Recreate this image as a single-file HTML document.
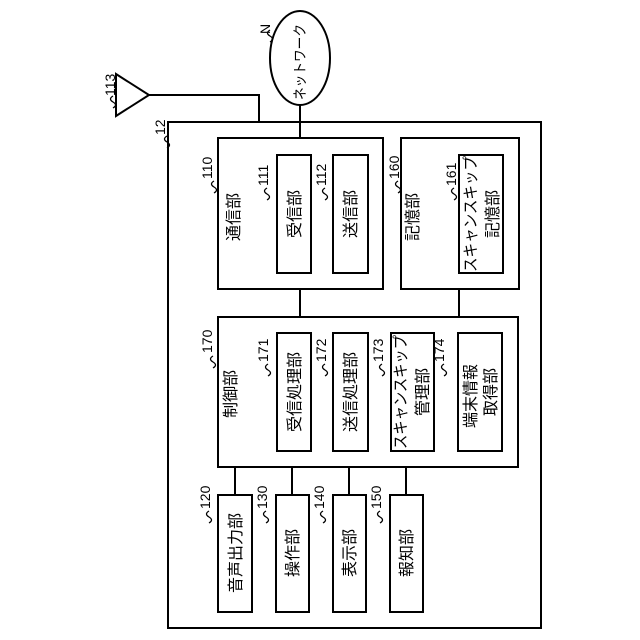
<!DOCTYPE html>
<html><head><meta charset="utf-8"><style>html,body{margin:0;padding:0;background:#fff}svg{display:block}</style></head><body>
<svg width="640" height="640" viewBox="0 0 640 640" xmlns="http://www.w3.org/2000/svg" font-family="'Liberation Sans','Noto Sans CJK JP',sans-serif" fill="none" stroke="#000" stroke-width="2">
<rect x="168" y="122" width="373" height="506"/>
<ellipse cx="300" cy="58" rx="30" ry="47"/>
<line x1="300" y1="105" x2="300" y2="138"/>
<polygon points="116,74 116,116 149,95"/>
<polyline points="149,95 259,95 259,122"/>
<rect x="218" y="138" width="165" height="151"/>
<rect x="277" y="155" width="34" height="118"/>
<rect x="333" y="155" width="35" height="118"/>
<rect x="401" y="138" width="118" height="151"/>
<rect x="459" y="155" width="44" height="118"/>
<line x1="300" y1="289" x2="300" y2="317"/>
<line x1="459" y1="289" x2="459" y2="317"/>
<rect x="218" y="317" width="300" height="150"/>
<rect x="277" y="333" width="34" height="118"/>
<rect x="333" y="333" width="35" height="118"/>
<rect x="391" y="333" width="43" height="118"/>
<rect x="458" y="333" width="44" height="118"/>
<line x1="235" y1="467" x2="235" y2="495"/>
<line x1="292" y1="467" x2="292" y2="495"/>
<line x1="349" y1="467" x2="349" y2="495"/>
<line x1="406" y1="467" x2="406" y2="495"/>
<rect x="218" y="495" width="34" height="117"/>
<rect x="276" y="495" width="33" height="117"/>
<rect x="333" y="495" width="33" height="117"/>
<rect x="390" y="495" width="33" height="117"/>

<g stroke-width="1.3">
<path d="M270,30 q-5,3 0,6 q5,3 0,6"/>
<path d="M113,96 q-5,3 0,6 q5,3 0,6"/>
<path d="M167,136 q-5,3 0,6 q5,3 0,6"/>
<path d="M214,181 q-5,3 0,6 q5,3 0,6"/>
<path d="M267,188 q-5,3 0,6 q5,3 0,6"/>
<path d="M325,188 q-5,3 0,6 q5,3 0,6"/>
<path d="M398,181 q-5,3 0,6 q5,3 0,6"/>
<path d="M454,188 q-5,3 0,6 q5,3 0,6"/>
<path d="M213,356 q-5,3 0,6 q5,3 0,6"/>
<path d="M268,364 q-5,3 0,6 q5,3 0,6"/>
<path d="M325,364 q-5,3 0,6 q5,3 0,6"/>
<path d="M382,364 q-5,3 0,6 q5,3 0,6"/>
<path d="M444,364 q-5,3 0,6 q5,3 0,6"/>
<path d="M209,511 q-5,3 0,6 q5,3 0,6"/>
<path d="M266,511 q-5,3 0,6 q5,3 0,6"/>
<path d="M323,511 q-5,3 0,6 q5,3 0,6"/>
<path d="M380,511 q-5,3 0,6 q5,3 0,6"/>
</g>

<g fill="#000" stroke="none" font-size="14">
<text transform="translate(270,34) rotate(-90)">N</text>
<text transform="translate(115,96) rotate(-90)">113</text>
<text transform="translate(165,135) rotate(-90)">12</text>
<text transform="translate(212,179) rotate(-90)">110</text>
<text transform="translate(268,186) rotate(-90)">111</text>
<text transform="translate(326,186) rotate(-90)">112</text>
<text transform="translate(399,179) rotate(-90)">160</text>
<text transform="translate(456,186) rotate(-90)">161</text>
<text transform="translate(212,353) rotate(-90)">170</text>
<text transform="translate(268,362) rotate(-90)">171</text>
<text transform="translate(326,362) rotate(-90)">172</text>
<text transform="translate(383,362) rotate(-90)">173</text>
<text transform="translate(444,362) rotate(-90)">174</text>
<text transform="translate(210,509) rotate(-90)">120</text>
<text transform="translate(267,509) rotate(-90)">130</text>
<text transform="translate(324,509) rotate(-90)">140</text>
<text transform="translate(381,509) rotate(-90)">150</text>
</g>

<g fill="#000" stroke="none" font-size="16" text-anchor="middle">
<text font-size="14" transform="translate(305,62) rotate(-90)" textLength="76" lengthAdjust="spacingAndGlyphs">ネットワーク</text>
<text transform="translate(239,217) rotate(-90)">通信部</text>
<text transform="translate(300,214) rotate(-90)">受信部</text>
<text transform="translate(356,214) rotate(-90)">送信部</text>
<text transform="translate(418,217) rotate(-90)">記憶部</text>
<text transform="translate(476,214) rotate(-90)" textLength="116" lengthAdjust="spacingAndGlyphs">スキャンスキップ</text>
<text transform="translate(498,214) rotate(-90)">記憶部</text>
<text transform="translate(236,394) rotate(-90)">制御部</text>
<text transform="translate(300,392) rotate(-90)">受信処理部</text>
<text transform="translate(356,392) rotate(-90)">送信処理部</text>
<text transform="translate(406,392) rotate(-90)" textLength="114" lengthAdjust="spacingAndGlyphs">スキャンスキップ</text>
<text transform="translate(428,392) rotate(-90)">管理部</text>
<text transform="translate(476,396) rotate(-90)">端末情報</text>
<text transform="translate(496,392) rotate(-90)">取得部</text>
<text transform="translate(241,553) rotate(-90)">音声出力部</text>
<text transform="translate(298,553) rotate(-90)">操作部</text>
<text transform="translate(355,553) rotate(-90)">表示部</text>
<text transform="translate(412,553) rotate(-90)">報知部</text>
</g>
</svg>
</body></html>
